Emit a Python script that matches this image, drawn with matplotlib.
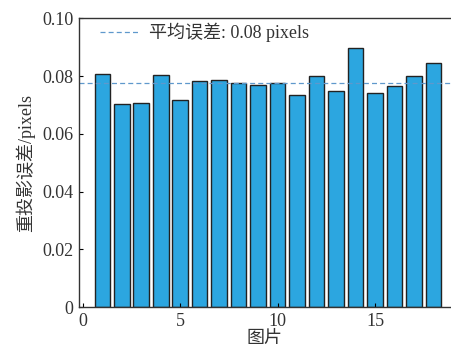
import numpy as np
import matplotlib
matplotlib.use("Agg")
import matplotlib.pyplot as plt

plt.rcParams['font.family'] = ['Liberation Serif', 'Noto Sans CJK SC']
plt.rcParams['font.size'] = 13

# reprojection error per image
imgs = np.arange(1, 19)
err = [0.0806, 0.0704, 0.0708, 0.0803, 0.0718, 0.0784, 0.0785, 0.0775, 0.0769,
       0.0777, 0.0736, 0.0802, 0.0749, 0.0899, 0.0743, 0.0766, 0.0801, 0.0844]
mean_err = np.mean(err)

fig = plt.figure(figsize=(4.51, 3.53), dpi=100)
ax = fig.add_axes([0.175, 0.13, 0.825, 0.818])

ax.bar(imgs, err, width=0.8, color='#2ca6e0', edgecolor='#222222', linewidth=1.0)
ax.axhline(mean_err, ls='--', color='#5f98cc', lw=0.9, dashes=(4, 2.5),
           label=f'平均误差: {mean_err:.2f} pixels')

ax.set_xlim(-0.2, 18.9)
ax.set_ylim(0, 0.10)
ax.set_xticks([0, 5, 10, 15])
ax.set_yticks([0, 0.02, 0.04, 0.06, 0.08, 0.10])
ax.set_yticklabels(['0', '0.02', '0.04', '0.06', '0.08', '0.10'])
ax.tick_params(direction='in', length=3, width=0.8, pad=4, labelcolor='#333333')
ax.spines['right'].set_visible(False)
for s in ['left', 'bottom', 'top']:
    ax.spines[s].set_color('#333333')
    ax.spines[s].set_linewidth(1.0)

ax.set_xlabel('图片', labelpad=0, color='#333333')
ax.set_ylabel('重投影误差/pixels', labelpad=5, color='#333333')
leg = ax.legend(loc='upper left', frameon=False, handlelength=2.2,
                handletextpad=0.5, borderaxespad=0.2, bbox_to_anchor=(0.028, 1.022))
for t in leg.get_texts():
    t.set_color('#333333')

fig.savefig('out.png', dpi=100)
